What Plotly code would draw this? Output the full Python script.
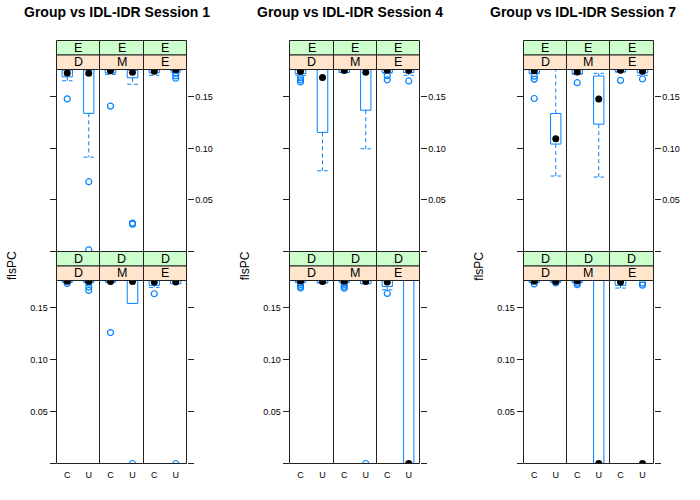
import plotly.graph_objects as go

# ---------------- data ----------------
sessions = [1, 4, 7]
outer_levels = ["E", "D"]          # green strip: top row, bottom row
inner_levels = ["D", "M", "E"]     # peach strip: columns
groups = ["C", "U"]
y_ticks = [0.0, 0.05, 0.10, 0.15]
y_tick_text = ["", "0.05", "0.10", "0.15"]
y_max = 0.1765

# order in each list: top row (E): D-C, D-U, M-C, M-U, E-C, E-U ; then bottom row (D): same
s1_low = [0.1656, 0.0915, 0.1716, 0.1622, 0.1709, 0.1740,
          0.1748, 0.1746, 0.1748, 0.1544, 0.1698, 0.1734]
s1_q1 = [0.1694, 0.1340, 0.1731, 0.1685, 0.1733, 0.1752,
         0.1752, 0.1750, 0.1750, 0.1544, 0.1718, 0.1734]
s1_med = [0.1731, 0.1728, 0.1753, 0.1738, 0.1748, 0.1762,
          0.1758, 0.1758, 0.1756, 0.1756, 0.1750, 0.1750]
s1_q3 = [0.1760, 0.1760, 0.1762, 0.1760, 0.1762, 0.1765,
         0.1765, 0.1765, 0.1765, 0.1765, 0.1765, 0.1765]
s1_high = [0.1765, 0.1765, 0.1765, 0.1765, 0.1765, 0.1765,
           0.1765, 0.1765, 0.1765, 0.1765, 0.1765, 0.1765]
s1_out = [[0.148], [0.0677, 0.0016], [0.141], [0.0265, 0.0275], [], [0.1728, 0.1704, 0.1680],
          [0.1737], [0.1741, 0.1702, 0.1669], [0.1263], [0.0], [0.1637], [0.0]]

s4_low = [0.1709, 0.0783, 0.1735, 0.0996, 0.1730, 0.1709,
          0.1745, 0.1740, 0.1745, 0.1734, 0.1676, 0.0]
s4_q1 = [0.1725, 0.1155, 0.1738, 0.1370, 0.1738, 0.1735,
         0.1750, 0.1745, 0.1750, 0.1734, 0.1708, 0.0]
s4_med = [0.1745, 0.1687, 0.1755, 0.1738, 0.1757, 0.1755,
          0.1760, 0.1756, 0.1758, 0.1756, 0.1750, 0.0]
s4_q3 = [0.1762, 0.1765, 0.1765, 0.1765, 0.1765, 0.1765,
         0.1765, 0.1765, 0.1765, 0.1765, 0.1765, 0.1765]
s4_high = [0.1765, 0.1765, 0.1765, 0.1765, 0.1765, 0.1765,
           0.1765, 0.1765, 0.1765, 0.1765, 0.1765, 0.1765]
s4_out = [[0.1685, 0.1665, 0.1645], [], [], [], [0.1705, 0.1665], [0.1654],
          [0.1728, 0.1708, 0.1692], [], [0.1728, 0.1708, 0.1690], [0.0], [0.1640], []]

s7_low = [0.1725, 0.0732, 0.1719, 0.0722, 0.1740, 0.1709,
          0.1745, 0.1745, 0.1745, 0.0, 0.1692, 0.0]
s7_q1 = [0.1730, 0.1042, 0.1725, 0.1235, 0.1745, 0.1733,
         0.1750, 0.1750, 0.1750, 0.0, 0.1718, 0.0]
s7_med = [0.1754, 0.1093, 0.1741, 0.1480, 0.1757, 0.1748,
          0.1758, 0.1756, 0.1759, 0.0, 0.1750, 0.0]
s7_q3 = [0.1765, 0.1338, 0.1762, 0.1702, 0.1765, 0.1765,
         0.1765, 0.1765, 0.1765, 0.1765, 0.1765, 0.0]
s7_high = [0.1765, 0.1765, 0.1765, 0.1728, 0.1765, 0.1765,
           0.1765, 0.1765, 0.1765, 0.1765, 0.1765, 0.0]
s7_out = [[0.1700, 0.1672, 0.1484], [], [0.1637], [], [0.1660], [0.1673],
          [0.1732], [0.1742], [0.1740, 0.1724], [], [], [0.1739, 0.1720]]

session_stats = [
    (s1_low, s1_q1, s1_med, s1_q3, s1_high, s1_out),
    (s4_low, s4_q1, s4_med, s4_q3, s4_high, s4_out),
    (s7_low, s7_q1, s7_med, s7_q3, s7_high, s7_out),
]

# ---------------- style / layout ----------------
W, H = 700, 500
BLUE = "#0080ff"
GREEN = "#ccffcc"
PEACH = "#ffe5cc"
LINE = "#222222"
FONT = "Liberation Sans, Arial, sans-serif"
HALF = 0.24          # half box width (x units)

group_w = W / 3.0
panel_left0 = 56.0
panel_w = 43.33
row_px = [(69.5, 251.5), (280.5, 463.5)]       # panel top/bottom per row
strip_px = [((40.5, 55.0), (55.0, 69.5)), ((251.5, 266.0), (266.0, 280.5))]


def px(x):
    return x / W


def py(y):
    return 1 - y / H


fig = go.Figure()
shapes = []
annotations = []
layout_axes = {}

idx = 0
for k, sess in enumerate(sessions):
    low, q1, med, q3, high, outs = session_stats[k]
    gx0 = k * group_w
    for r in range(2):
        for c in range(3):
            idx += 1
            xa = "x" if idx == 1 else f"x{idx}"
            ya = "y" if idx == 1 else f"y{idx}"
            xl = round(gx0 + panel_left0 + c * panel_w) + 0.5
            xr = round(gx0 + panel_left0 + (c + 1) * panel_w) + 0.5
            top, bot = row_px[r]

            rx, ry, wx, wy, mx, my, ox, oy = [], [], [], [], [], [], [], []
            for g in range(2):
                i = r * 6 + c * 2 + g
                xc = g + 1
                rx += [xc - HALF, xc + HALF, xc + HALF, xc - HALF, xc - HALF, None]
                ry += [q1[i], q1[i], q3[i], q3[i], q1[i], None]
                if high[i] > q3[i]:
                    wx += [xc, xc, None, xc - HALF, xc + HALF, None]
                    wy += [q3[i], high[i], None, high[i], high[i], None]
                if low[i] < q1[i]:
                    wx += [xc, xc, None, xc - HALF, xc + HALF, None]
                    wy += [q1[i], low[i], None, low[i], low[i], None]
                mx.append(xc)
                my.append(med[i])
                for v in outs[i]:
                    ox.append(xc)
                    oy.append(v)
            fig.add_trace(go.Scatter(x=wx, y=wy, mode="lines", xaxis=xa, yaxis=ya,
                                     line=dict(color=BLUE, width=1, dash="4px,3px"),
                                     hoverinfo="skip", showlegend=False))
            fig.add_trace(go.Scatter(x=rx, y=ry, mode="lines", xaxis=xa, yaxis=ya,
                                     line=dict(color=BLUE, width=1),
                                     hoverinfo="skip", showlegend=False))
            fig.add_trace(go.Scatter(x=ox, y=oy, mode="markers", xaxis=xa, yaxis=ya,
                                     marker=dict(symbol="circle-open", size=6,
                                                 color=BLUE, line=dict(width=1.2)),
                                     showlegend=False))
            fig.add_trace(go.Scatter(x=mx, y=my, mode="markers", xaxis=xa, yaxis=ya,
                                     marker=dict(symbol="circle", size=7, color="black"),
                                     showlegend=False))

            xkey = "xaxis" if idx == 1 else f"xaxis{idx}"
            ykey = "yaxis" if idx == 1 else f"yaxis{idx}"
            layout_axes[xkey] = dict(
                domain=[px(xl), px(xr)], anchor=ya, range=[0.5, 2.5],
                showline=False, showgrid=False, zeroline=False,
                ticks="outside", ticklen=3, tickcolor="rgba(0,0,0,0)",
                tickvals=[1, 2], ticktext=groups,
                showticklabels=(r == 1),
                tickfont=dict(family=FONT, size=9, color="#000000"),
                fixedrange=True,
            )
            yd = dict(
                domain=[py(bot), py(top)], anchor=xa, range=[0, y_max],
                showline=False, showgrid=False, zeroline=False,
                tickvals=y_ticks, ticktext=y_tick_text,
                tickfont=dict(family=FONT, size=9, color="#000000"),
                fixedrange=True,
            )
            if c == 0:
                yd.update(side="left", ticks="outside", ticklen=6, tickcolor=LINE,
                          showticklabels=(r == 1))
            elif c == 2:
                yd.update(side="right", ticks="outside", ticklen=6, tickcolor=LINE,
                          showticklabels=(r == 0))
            else:
                yd.update(ticks="", showticklabels=False)
            layout_axes[ykey] = yd

            # panel border
            shapes.append(dict(type="rect", xref="paper", yref="paper",
                               x0=px(xl), x1=px(xr), y0=py(bot), y1=py(top),
                               fillcolor="rgba(0,0,0,0)", line=dict(color=LINE, width=1),
                               layer="above"))
            # strips
            (g0, g1), (p0, p1) = strip_px[r]
            shapes.append(dict(type="rect", xref="paper", yref="paper",
                               x0=px(xl), x1=px(xr), y0=py(g1), y1=py(g0),
                               fillcolor=GREEN, line=dict(color=LINE, width=1), layer="above"))
            shapes.append(dict(type="rect", xref="paper", yref="paper",
                               x0=px(xl), x1=px(xr), y0=py(p1), y1=py(p0),
                               fillcolor=PEACH, line=dict(color=LINE, width=1), layer="above"))
            annotations.append(dict(text=outer_levels[r], xref="paper", yref="paper",
                                    x=px((xl + xr) / 2), y=py((g0 + g1) / 2),
                                    showarrow=False, xanchor="center", yanchor="middle",
                                    font=dict(family=FONT, size=12.5, color="black")))
            annotations.append(dict(text=inner_levels[c], xref="paper", yref="paper",
                                    x=px((xl + xr) / 2), y=py((p0 + p1) / 2),
                                    showarrow=False, xanchor="center", yanchor="middle",
                                    font=dict(family=FONT, size=12.5, color="black")))

    annotations.append(dict(text=f"<b>Group vs IDL-IDR Session {sess}</b>",
                            xref="paper", yref="paper",
                            x=px(gx0 + 116.5), y=py(12), showarrow=False,
                            xanchor="center", yanchor="middle",
                            font=dict(family=FONT, size=14, color="black")))
    annotations.append(dict(text="flsPC", xref="paper", yref="paper",
                            x=px(gx0 + 12), y=py(266), showarrow=False, textangle=-90,
                            xanchor="center", yanchor="middle",
                            font=dict(family=FONT, size=12, color="black")))

fig.update_layout(
    width=W, height=H, margin=dict(l=0, r=0, t=0, b=0),
    paper_bgcolor="white", plot_bgcolor="white",
    shapes=shapes, annotations=annotations, showlegend=False,
    **layout_axes,
)

fig.write_html("out.html", config={"displayModeBar": False},
               post_script="document.body.style.margin='0';document.body.style.padding='0';"
                           "document.body.style.overflow='hidden';")
